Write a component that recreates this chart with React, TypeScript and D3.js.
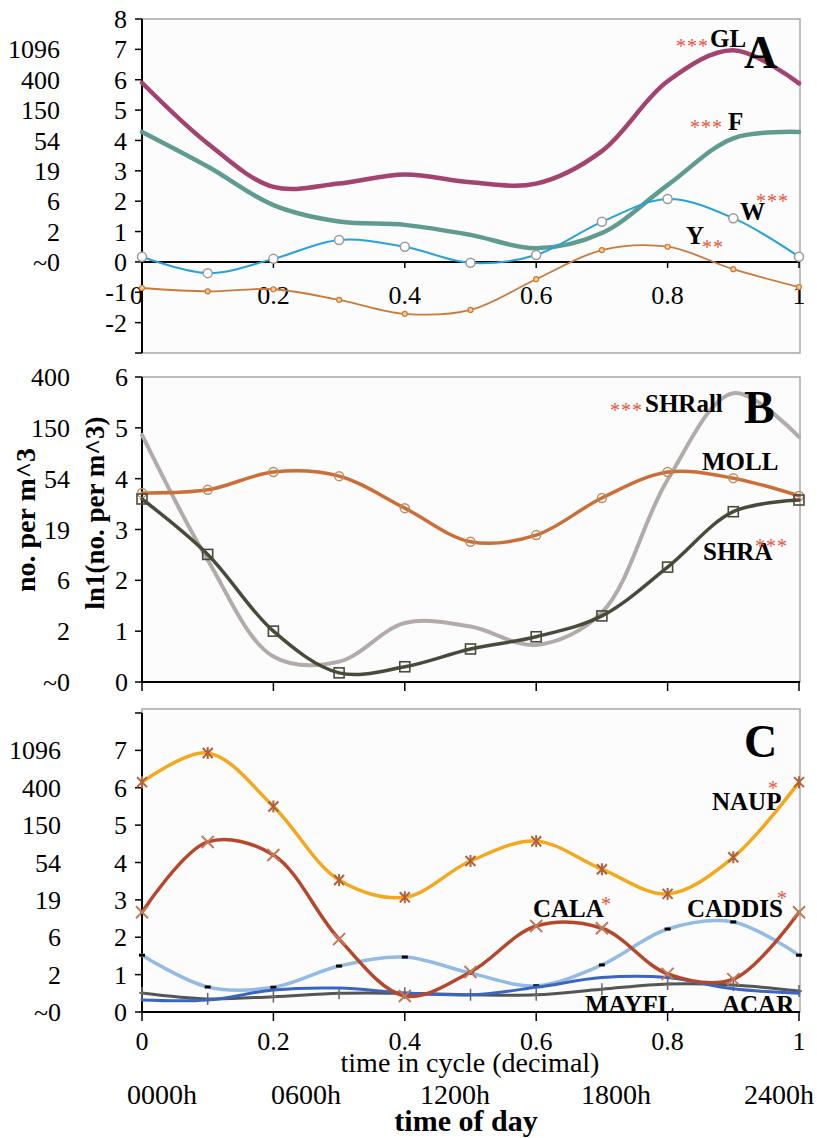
import React from "react";
import * as d3 from "d3";

// time in cycle (decimal)
const times = [0, 0.1, 0.2, 0.3, 0.4, 0.5, 0.6, 0.7, 0.8, 0.9, 1];
const xTicks = [0, 0.2, 0.4, 0.6, 0.8, 1];
const xTickLabels = ["0", "0.2", "0.4", "0.6", "0.8", "1"];

// panel A
const glVals = [5.9, 3.9, 2.47, 2.58, 2.88, 2.62, 2.58, 3.65, 5.95, 6.97, 5.88];
const fVals = [4.28, 3.14, 1.87, 1.33, 1.22, 0.89, 0.45, 0.95, 2.53, 4.07, 4.28];
const wVals = [0.17, -0.37, 0.1, 0.72, 0.5, -0.03, 0.23, 1.32, 2.07, 1.44, 0.17];
const yVals = [-0.86, -0.97, -0.9, -1.25, -1.71, -1.58, -0.57, 0.39, 0.5, -0.24, -0.83];

// panel B
const shrAllVals = [4.86, 2.4, 0.5, 0.4, 1.16, 1.09, 0.73, 1.37, 3.98, 5.68, 4.82];
const mollVals = [3.72, 3.78, 4.13, 4.05, 3.42, 2.76, 2.89, 3.62, 4.13, 4.01, 3.66];
const shraVals = [3.6, 2.51, 1.0, 0.18, 0.3, 0.65, 0.89, 1.3, 2.26, 3.35, 3.58];

// panel C
const naupVals = [6.15, 6.93, 5.5, 3.53, 3.07, 4.04, 4.57, 3.82, 3.16, 4.14, 6.15];
const calaVals = [2.67, 4.55, 4.2, 1.95, 0.43, 1.07, 2.3, 2.24, 1.02, 0.88, 2.67];
const caddisVals = [1.52, 0.67, 0.66, 1.23, 1.47, 1.04, 0.7, 1.26, 2.22, 2.41, 1.52];
const mayflVals = [0.51, 0.35, 0.41, 0.5, 0.5, 0.46, 0.46, 0.61, 0.75, 0.72, 0.56];
const acarVals = [0.32, 0.32, 0.59, 0.64, 0.51, 0.46, 0.66, 0.92, 0.92, 0.62, 0.5];

// left-most labels (back-transformed counts)
const countLabelsA = ["~0", "2", "6", "19", "54", "150", "400", "1096"];
const countLabelsB = ["~0", "2", "6", "19", "54", "150", "400"];
const countLabelsC = ["~0", "2", "6", "19", "54", "150", "400", "1096"];
const hourLabels = ["0000h", "0600h", "1200h", "1800h", "2400h"];
const hourX = [162, 306, 455, 616, 779];

const FONT = "'Liberation Serif', 'Times New Roman', serif";
const RED = "#e5553a";

const x = d3.scaleLinear().domain([0, 1]).range([142, 799]);
const line = (ys, yScale) =>
  d3.line<number>()
    .x((_, i) => x(times[i]))
    .y((d) => yScale(d))
    .curve(d3.curveCatmullRom.alpha(0.5))(ys);

function Marker({ type, cx, cy, color }) {
  const s = 5;
  switch (type) {
    case "circle":
      return <circle cx={cx} cy={cy} r={4.5} fill="#fff" stroke={color} strokeWidth={1.5} />;
    case "smallcircle":
      return <circle cx={cx} cy={cy} r={2.5} fill="#f4d08a" stroke={color} strokeWidth={1.2} />;
    case "ocircle":
      return <circle cx={cx} cy={cy} r={4.5} fill="none" stroke={color} strokeWidth={1.5} />;
    case "square":
      return <rect x={cx - 5} y={cy - 5} width={10} height={10} fill="none" stroke={color} strokeWidth={1.6} />;
    case "star":
      return (
        <g stroke={color} strokeWidth={2}>
          <line x1={cx - s} y1={cy - s} x2={cx + s} y2={cy + s} />
          <line x1={cx - s} y1={cy + s} x2={cx + s} y2={cy - s} />
          <line x1={cx} y1={cy - s - 1} x2={cx} y2={cy + s + 1} />
        </g>
      );
    case "x":
      return (
        <g stroke={color} strokeWidth={2}>
          <line x1={cx - 6} y1={cy - 6} x2={cx + 6} y2={cy + 6} />
          <line x1={cx - 6} y1={cy + 6} x2={cx + 6} y2={cy - 6} />
        </g>
      );
    case "dash":
      return <rect x={cx - 3} y={cy - 1.5} width={6} height={3} fill="#000" />;
    case "plus":
      return (
        <g stroke={color} strokeWidth={1.5}>
          <line x1={cx} y1={cy - 6} x2={cx} y2={cy + 6} />
          <line x1={cx - 3} y1={cy} x2={cx + 3} y2={cy} />
        </g>
      );
    default:
      return null;
  }
}

function Series({ vals, yScale, color, width, marker, markerColor }) {
  return (
    <g>
      <path d={line(vals, yScale)} fill="none" stroke={color} strokeWidth={width} strokeLinejoin="round" strokeLinecap="round" />
      {marker &&
        vals.map((v, i) => (
          <Marker key={i} type={marker} cx={x(times[i])} cy={yScale(v)} color={markerColor || color} />
        ))}
    </g>
  );
}

function YAxis({ yScale, ticks, labels, labelRight, counts, countRight }) {
  return (
    <g fontFamily={FONT} fontSize={26}>
      <line x1={142} x2={142} y1={yScale.range()[0]} y2={yScale.range()[1]} stroke="#000" strokeWidth={2} />
      {ticks.map((t) => (
        <line key={t} x1={135} x2={142} y1={yScale(t)} y2={yScale(t)} stroke="#000" strokeWidth={1.5} />
      ))}
      {labels.map((t) => (
        <text key={"l" + t} x={labelRight} y={yScale(t)} dy="0.35em" textAnchor="end">{t}</text>
      ))}
      {counts.map((c, i) => (
        <text key={"c" + i} x={countRight} y={yScale(i)} dy="0.35em" textAnchor="end">{c}</text>
      ))}
    </g>
  );
}

function Stars({ x0, cy, n, size = 20 }) {
  return (
    <text x={x0} y={cy + size * 0.55} fontFamily={FONT} fontSize={size} fill={RED} letterSpacing={1}>
      {"*".repeat(n)}
    </text>
  );
}

function Label({ x0, y0, text, size = 25 }) {
  return (
    <text x={x0} y={y0} fontFamily={FONT} fontSize={size} fontWeight="bold">{text}</text>
  );
}

export default function App() {
  const yA = d3.scaleLinear().domain([-3, 8]).range([353, 19]);
  const yB = d3.scaleLinear().domain([0, 6]).range([682, 377]);
  const yC = d3.scaleLinear().domain([0, 8]).range([1012, 713]);
  const frame = "#a8a8a8";

  return (
    <svg width={817} height={1138} style={{ position: "absolute", left: 0, top: 0, background: "#fff" }}>
      {/* ---------- panel A ---------- */}
      <rect x={142} y={19} width={658} height={334} fill="#fcfcfc" stroke={frame} strokeWidth={1.5} />
      <YAxis yScale={yA} ticks={d3.range(-3, 9)} labels={d3.range(-2, 9)} labelRight={127}
        counts={countLabelsA} countRight={60} />
      <line x1={142} x2={800} y1={yA(0)} y2={yA(0)} stroke="#000" strokeWidth={2} />
      {xTicks.map((t) => (
        <line key={t} x1={x(t)} x2={x(t)} y1={yA(0)} y2={yA(0) + 6} stroke="#000" strokeWidth={1.5} />
      ))}
      {xTicks.map((t, i) => (
        <text key={"xa" + t} x={i === 0 ? x(t) + 1 : x(t)} y={yA(0) + 42} fontFamily={FONT} fontSize={26}
          textAnchor={i === 0 ? "end" : "middle"}>{xTickLabels[i]}</text>
      ))}
      <Series vals={glVals} yScale={yA} color="#a3436f" width={4.5} />
      <Series vals={fVals} yScale={yA} color="#5f9b90" width={4.5} />
      <Series vals={wVals} yScale={yA} color="#27a3d9" width={2} marker="circle" markerColor="#9a9a9a" />
      <Series vals={yVals} yScale={yA} color="#c97a3a" width={1.8} marker="smallcircle" />
      <Stars x0={676} cy={42} n={3} />
      <Label x0={710} y0={47} text="GL" />
      <Label x0={744} y0={68} text="A" size={46} />
      <Stars x0={690} cy={123} n={3} />
      <Label x0={728} y0={130} text="F" />
      <Label x0={740} y0={220} text="W" />
      <Stars x0={756} cy={197} n={3} />
      <Label x0={686} y0={244} text="Y" />
      <Stars x0={702} cy={243} n={2} />

      {/* ---------- panel B ---------- */}
      <rect x={142} y={377} width={658} height={305} fill="#fcfcfc" stroke={frame} strokeWidth={1.5} />
      <YAxis yScale={yB} ticks={d3.range(0, 7)} labels={d3.range(0, 7)} labelRight={128}
        counts={countLabelsB} countRight={70} />
      <line x1={142} x2={800} y1={yB(0)} y2={yB(0)} stroke="#000" strokeWidth={2} />
      {xTicks.map((t) => (
        <line key={t} x1={x(t)} x2={x(t)} y1={yB(0)} y2={yB(0) + 9} stroke="#000" strokeWidth={1.5} />
      ))}
      <text transform="translate(35,520) rotate(-90)" textAnchor="middle" fontFamily={FONT} fontSize={28} fontWeight="bold">no. per m^3</text>
      <text transform="translate(104,513) rotate(-90)" textAnchor="middle" fontFamily={FONT} fontSize={27} fontWeight="bold">ln1(no. per m^3)</text>
      <Series vals={shrAllVals} yScale={yB} color="#b2abaa" width={4} />
      <Series vals={mollVals} yScale={yB} color="#cc6e38" width={3.5} marker="ocircle" markerColor="#b89060" />
      <Series vals={shraVals} yScale={yB} color="#4a4a3c" width={3.5} marker="square" />
      <Stars x0={610} cy={406} n={3} />
      <Label x0={645} y0={412} text="SHRall" />
      <Label x0={744} y0={423} text="B" size={46} />
      <Label x0={702} y0={470} text="MOLL" />
      <Label x0={703} y0={560} text="SHRA" />
      <Stars x0={755} cy={542} n={3} />

      {/* ---------- panel C ---------- */}
      <rect x={142} y={709} width={658} height={303} fill="#fcfcfc" stroke={frame} strokeWidth={1.5} />
      <YAxis yScale={yC} ticks={d3.range(0, 9)} labels={d3.range(0, 8)} labelRight={127}
        counts={countLabelsC} countRight={61} />
      <line x1={142} x2={800} y1={yC(0)} y2={yC(0)} stroke="#000" strokeWidth={2} />
      {xTicks.map((t) => (
        <line key={t} x1={x(t)} x2={x(t)} y1={yC(0)} y2={yC(0) + 9} stroke="#000" strokeWidth={1.5} />
      ))}
      {xTicks.map((t, i) => (
        <text key={"xc" + t} x={x(t)} y={1050} fontFamily={FONT} fontSize={26} textAnchor="middle">{xTickLabels[i]}</text>
      ))}
      <Series vals={caddisVals} yScale={yC} color="#93bbe3" width={3.5} marker="dash" />
      <Series vals={mayflVals} yScale={yC} color="#555555" width={3} marker="plus" markerColor="#666" />
      <Series vals={acarVals} yScale={yC} color="#3b66c0" width={3} />
      <Series vals={calaVals} yScale={yC} color="#b5472d" width={3.5} marker="x" markerColor="#c07a58" />
      <Series vals={naupVals} yScale={yC} color="#f4a81d" width={3.5} marker="star" markerColor="#b0603a" />
      <Label x0={744} y0={757} text="C" size={46} />
      <Label x0={712} y0={810} text="NAUP" />
      <Stars x0={768} cy={784} n={1} />
      <Label x0={533} y0={917} text="CALA" />
      <Stars x0={601} cy={900} n={1} />
      <Label x0={687} y0={917} text="CADDIS" />
      <Stars x0={777} cy={894} n={1} />
      <Label x0={585} y0={1013} text="MAYFL" />
      <Label x0={722} y0={1013} text="ACAR" />

      <text x={470} y={1072} fontFamily={FONT} fontSize={28} textAnchor="middle">time in cycle (decimal)</text>
      {hourLabels.map((h, i) => (
        <text key={h} x={hourX[i]} y={1104} fontFamily={FONT} fontSize={28} textAnchor="middle">{h}</text>
      ))}
      <text x={466} y={1131} fontFamily={FONT} fontSize={30} fontWeight="bold" textAnchor="middle">time of day</text>
    </svg>
  );
}
